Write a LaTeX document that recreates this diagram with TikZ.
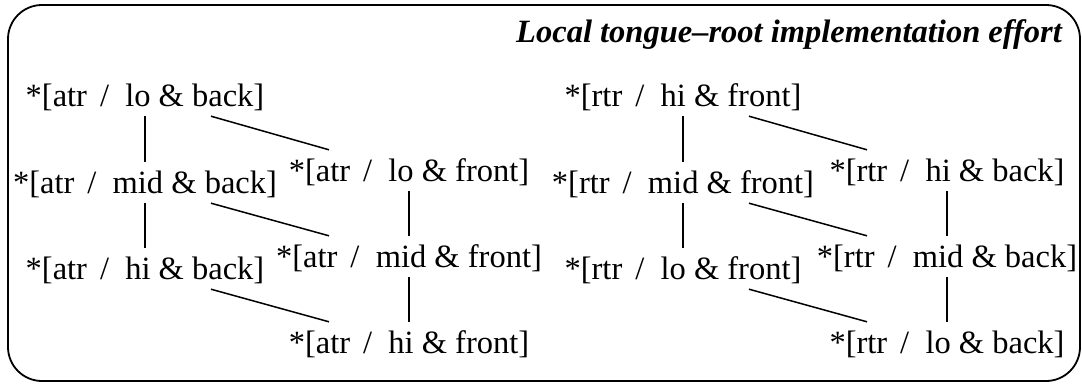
\documentclass[tikz,border=0pt]{standalone}
\usepackage{fontspec}
\setmainfont{Liberation Serif}
\usetikzlibrary{calc}
\newcommand{\cand}[3]{*[#1\hspace{0.4em}/\hspace{0.5em}#2 \& #3]}
\begin{document}
\begin{tikzpicture}[x=1pt,y=-1pt,
  cnd/.style={anchor=base,inner sep=0pt,text height=31pt,text depth=10pt,
    font=\fontsize{32.5}{40}\selectfont},
  ttl/.style={anchor=base east,inner sep=0pt,
    font=\fontsize{32.5}{40}\selectfont\bfseries\itshape},
  conn/.style={line width=1.5pt},
  frame/.style={line width=1.8pt,rounded corners=34pt}]
\useasboundingbox (0,0) rectangle (1082,383);
\draw[frame] (8,5) rectangle (1080,381);
\node[ttl] (title) at (1062,42) {Local tongue–root implementation effort};
% atr group
\node[cnd] (a1) at (145,106) {\cand{atr}{lo}{back}};
\node[cnd] (a2) at (145,193) {\cand{atr}{mid}{back}};
\node[cnd] (a3) at (145,279) {\cand{atr}{hi}{back}};
\node[cnd] (b1) at (409,181) {\cand{atr}{lo}{front}};
\node[cnd] (b2) at (409,267) {\cand{atr}{mid}{front}};
\node[cnd] (b3) at (409,353) {\cand{atr}{hi}{front}};
% rtr group
\node[cnd] (c1) at (683,106) {\cand{rtr}{hi}{front}};
\node[cnd] (c2) at (683,193) {\cand{rtr}{mid}{front}};
\node[cnd] (c3) at (683,279) {\cand{rtr}{lo}{front}};
\node[cnd] (d1) at (947,181) {\cand{rtr}{hi}{back}};
\node[cnd] (d2) at (947,267) {\cand{rtr}{mid}{back}};
\node[cnd] (d3) at (947,353) {\cand{rtr}{lo}{back}};
% connectors
\foreach \u/\v in {a1/a2,a2/a3,b1/b2,b2/b3,c1/c2,c2/c3,d1/d2,d2/d3}
  \draw[conn] (\u.south) -- (\v.north);
\foreach \u/\v in {a1/b1,a2/b2,a3/b3,c1/d1,c2/d2,c3/d3}
  \draw[conn] ($(\u.south)+(66,0)$) -- ($(\v.north)+(-80,0)$);
\end{tikzpicture}
\end{document}
